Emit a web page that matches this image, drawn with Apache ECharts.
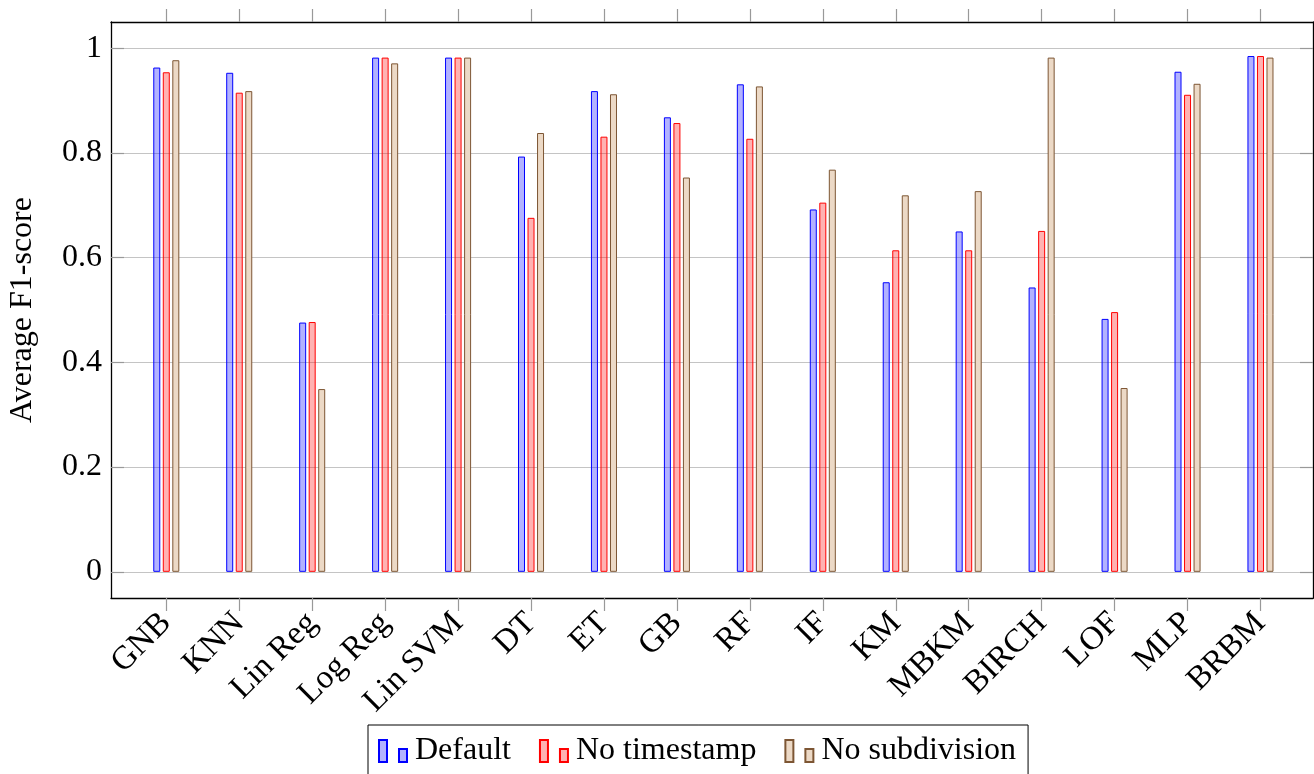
<!DOCTYPE html>
<html>
<head>
<meta charset="utf-8">
<script src="https://cdn.jsdelivr.net/npm/echarts@6/dist/echarts.min.js"></script>
<style>html,body{margin:0;padding:0;background:#fff}#c{width:1314px;height:774px}</style>
</head>
<body>
<div id="c"></div>
<script>
const categories = ['GNB','KNN','Lin Reg','Log Reg','Lin SVM','DT','ET','GB','RF','IF','KM','MBKM','BIRCH','LOF','MLP','BRBM'];
const defaultVals =   [0.963,0.953,0.476,0.982,0.982,0.793,0.918,0.868,0.931,0.692,0.553,0.650,0.543,0.483,0.955,0.985];
const noTimestamp =   [0.954,0.915,0.477,0.982,0.982,0.676,0.831,0.857,0.827,0.705,0.614,0.614,0.651,0.496,0.911,0.985];
const noSubdivision = [0.977,0.918,0.349,0.971,0.982,0.838,0.912,0.753,0.927,0.768,0.719,0.727,0.982,0.351,0.932,0.982];
const yTicks = [0,0.2,0.4,0.6,0.8,1];

const FONT = '"Liberation Serif", "DejaVu Serif", serif';
const xIdx = categories.map((c,i)=>i);
const toPairs = arr => arr.map((v,i)=>[i,v]);
const iconPath = 'path://M0,0H8V22H0Z M20,9H28V22H20Z';

const chart = echarts.init(document.getElementById('c'), null, {renderer:'canvas'});
const xMin = -0.758, xMax = 15.72, yMin = -0.05, yMax = 1.05;
function mkSeries(name, data, border, fill){
  return {
    name, type:'bar', data: toPairs(data), xAxisIndex:0, yAxisIndex:0,
    barWidth: 7, barGap: '36%',
    itemStyle:{color:fill, borderColor:border, borderWidth:1},
    emphasis:{disabled:true}, animation:false
  };
}
chart.setOption({
  animation:false,
  grid:{left:111, right:1, top:22, bottom:176, containLabel:false, outerBoundsMode:'none'},
  legend:{
    left:368, top:725,
    padding:[10,12,14,10],
    borderColor:'#000', borderWidth:1,
    itemWidth:28, itemHeight:22, itemGap:28,
    icon: iconPath,
    textStyle:{fontFamily:FONT, fontSize:32, color:'#000', padding:[0,0,0,3]},
    data:['Default','No timestamp','No subdivision']
  },
  xAxis:[{
    type:'value', min:xMin, max:xMax, position:'bottom',
    axisLine:{show:true, onZero:false, lineStyle:{color:'#000', width:1.3}},
    axisTick:{show:true, inside:false, length:13, customValues:xIdx, lineStyle:{color:'#999', width:1.2}},
    axisLabel:{show:true, customValues:xIdx, rotate:45, margin:20,
      formatter:v=>categories[Math.round(v)], fontFamily:FONT, fontSize:33, color:'#000'},
    splitLine:{show:false}
  },{
    type:'value', min:xMin, max:xMax, position:'top',
    axisLine:{show:true, onZero:false, lineStyle:{color:'#000', width:1.3}},
    axisTick:{show:true, inside:false, length:13, customValues:xIdx, lineStyle:{color:'#999', width:1.2}},
    axisLabel:{show:false},
    splitLine:{show:false}
  }],
  yAxis:[{
    type:'value', min:yMin, max:yMax, position:'left',
    name:'Average F1-score', nameLocation:'middle', nameGap:72, nameRotate:90,
    nameTextStyle:{fontFamily:FONT, fontSize:32, color:'#000'},
    axisLine:{show:true, onZero:false, lineStyle:{color:'#000', width:1.3}},
    axisTick:{show:true, inside:true, length:13, customValues:yTicks, lineStyle:{color:'#999', width:1.2}},
    axisLabel:{show:true, customValues:yTicks, margin:9, fontFamily:FONT, fontSize:32, color:'#000',
      formatter:v=>String(Math.round(v*10)/10)},
    splitLine:{show:true, lineStyle:{color:'#c4c4c4', width:1.2}}
  },{
    type:'value', min:yMin, max:yMax, position:'right',
    axisLine:{show:true, onZero:false, lineStyle:{color:'#000', width:1.3}},
    axisTick:{show:true, inside:true, length:13, customValues:yTicks, lineStyle:{color:'#999', width:1.2}},
    axisLabel:{show:false},
    splitLine:{show:false}
  }],
  series:[
    mkSeries('Default', defaultVals, '#0000ff', 'rgba(0,0,255,0.3)'),
    mkSeries('No timestamp', noTimestamp, '#ff0000', 'rgba(255,0,0,0.3)'),
    mkSeries('No subdivision', noSubdivision, '#7d5634', 'rgb(236,217,198)')
  ]
});
</script>
</body>
</html>
